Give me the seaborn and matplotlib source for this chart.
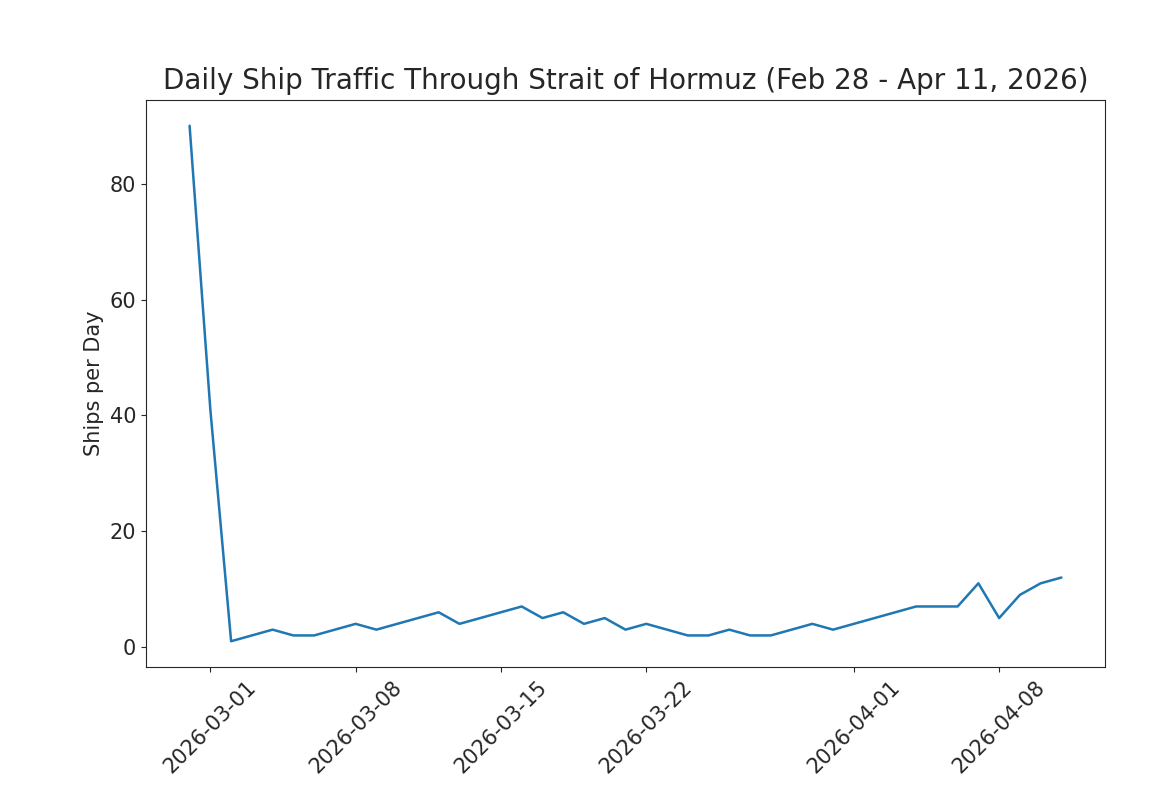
import matplotlib
matplotlib.use("Agg")
import matplotlib.pyplot as plt
import seaborn as sns
import pandas as pd

dates = pd.date_range("2026-02-28", "2026-04-11", freq="D")
ships = [90, 41, 1, 2, 3, 2, 2, 3, 4, 3, 4, 5, 6, 4, 5, 6, 7, 5, 6, 4, 5, 3, 4, 3, 2, 2, 3, 2, 2, 3,
         4, 3, 4, 5, 6, 7, 7, 7, 11, 5, 9, 11, 12]
tick_labels = ["2026-03-01", "2026-03-08", "2026-03-15", "2026-03-22", "2026-04-01", "2026-04-08"]

df = pd.DataFrame({"date": dates, "ships": ships})
sns.set_style("ticks")
plt.rcParams['font.family'] = ['DejaVu Sans']
fig = plt.figure(figsize=(11.69, 8.02), dpi=100)
ax = fig.add_axes([146/1169, 1-667/802, (1105-146)/1169, (667-100)/802])
sns.lineplot(data=df, x="date", y="ships", ax=ax, color="#1f77b4", linewidth=1.8)
ax.set_xticks(pd.to_datetime(tick_labels))
ax.set_xticklabels(tick_labels, rotation=45, fontsize=15)
ax.tick_params(axis='y', labelsize=15)
ax.set_xlabel("")
ax.set_ylabel("Ships per Day", fontsize=15)
ax.set_title("Daily Ship Traffic Through Strait of Hormuz (Feb 28 - Apr 11, 2026)", fontsize=20, pad=8)
ax.set_yticks([0, 20, 40, 60, 80])
fig.savefig("out.png", dpi=100)
